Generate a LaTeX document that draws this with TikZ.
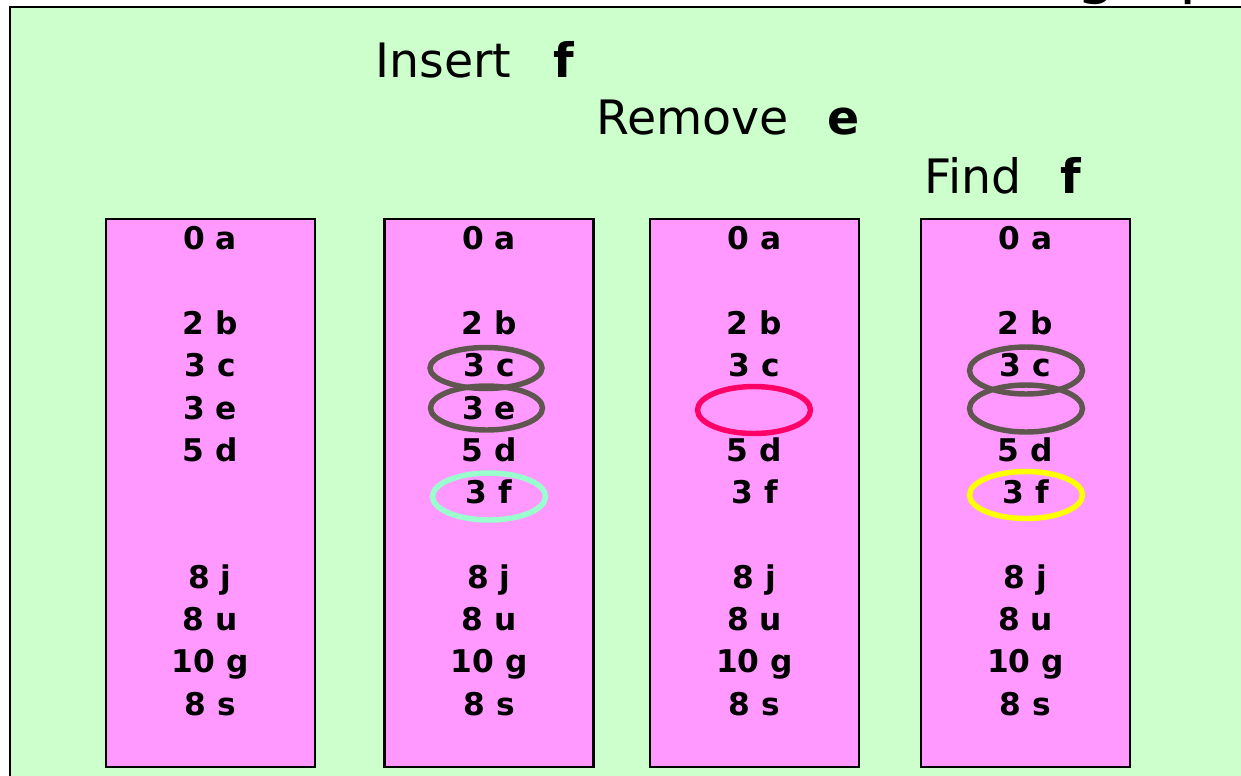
\documentclass[tikz,border=0pt]{standalone}
\usepackage{fontspec}
\setmainfont{DejaVu Sans}
\usetikzlibrary{positioning,shapes.geometric}
\definecolor{boardgreen}{HTML}{CCFFCC}
\definecolor{bucketpink}{HTML}{FF99FF}
\definecolor{ringgray}{HTML}{5F574F}
\definecolor{ringmint}{HTML}{99FFCC}
\definecolor{ringred}{HTML}{FF0066}
\definecolor{ringyellow}{HTML}{FFFF00}

\begin{document}
\begin{tikzpicture}[x=0.02cm,y=-0.02cm,node distance=0.846cm,
  entry/.style={font=\fontsize{17.8}{20}\selectfont\bfseries,text height=12.9pt,text depth=0pt,inner sep=0pt},
  bucket/.style={rectangle,draw,line width=1.2pt,fill=bucketpink,minimum width=4.18cm,minimum height=10.96cm},
  ring/.style={ellipse,line width=3.1pt,minimum width=2.26cm,minimum height=0.94cm,inner sep=0pt},
  op/.style={anchor=base west,font=\fontsize{27}{31}\selectfont,inner sep=0pt}]
\useasboundingbox (0,0) rectangle (1241,775);
\clip (0,0) rectangle (1241,775);

% board and the cut off title above it
  \draw[fill=boardgreen,line width=1.3pt] (10,7) rectangle (1300,830);
  \node[anchor=base west,font=\fontsize{36}{40}\selectfont,inner sep=0pt] (tg) at (1076,-9) {g};
  \node[anchor=base west,font=\fontsize{36}{40}\selectfont,inner sep=0pt] (tp) at (1179,-9) {p};

% operations
  \node[op] (insert) at (375,77) {Insert\hspace{24pt}\textbf{f}};
  \node[op] (remove) at (596,134) {Remove\hspace{22pt}\textbf{e}};
  \node[op] (find) at (924,193) {Find\hspace{22pt}\textbf{f}};

% buckets
  \node[bucket] (bucket1) at (210.5,493) {};
  \node[bucket] (bucket2) at (489,493) {};
  \node[bucket] (bucket3) at (754.5,493) {};
  \node[bucket] (bucket4) at (1025.5,493) {};

% first table
  \node[entry] (a1) at (210,238.5) {0 a};
  \node[entry] (b1) [node distance=1.692cm,below of=a1] {2 b};
  \node[entry] (c1) [below of=b1] {3 c};
  \node[entry] (e1) [below of=c1] {3 e};
  \node[entry] (d1) [below of=e1] {5 d};
  \node[entry] (j1) [node distance=2.538cm,below of=d1] {8 j};
  \node[entry] (u1) [below of=j1] {8 u};
  \node[entry] (g1) [below of=u1] {10 g};
  \node[entry] (s1) [below of=g1] {8 s};

% second table (after insert)
  \node[entry] (a2) at (489,238.5) {0 a};
  \node[entry] (b2) [node distance=1.692cm,below of=a2] {2 b};
  \node[entry] (c2) [below of=b2] {3 c};
  \node[entry] (e2) [below of=c2] {3 e};
  \node[entry] (d2) [below of=e2] {5 d};
  \node[entry] (f2) [below of=d2] {3 f};
  \node[entry] (j2) [node distance=1.692cm,below of=f2] {8 j};
  \node[entry] (u2) [below of=j2] {8 u};
  \node[entry] (g2) [below of=u2] {10 g};
  \node[entry] (s2) [below of=g2] {8 s};

% third table (after remove)
  \node[entry] (a3) at (754.5,238.5) {0 a};
  \node[entry] (b3) [node distance=1.692cm,below of=a3] {2 b};
  \node[entry] (c3) [below of=b3] {3 c};
  \node[entry] (d3) [node distance=1.692cm,below of=c3] {5 d};
  \node[entry] (f3) [below of=d3] {3 f};
  \node[entry] (j3) [node distance=1.692cm,below of=f3] {8 j};
  \node[entry] (u3) [below of=j3] {8 u};
  \node[entry] (g3) [below of=u3] {10 g};
  \node[entry] (s3) [below of=g3] {8 s};

% fourth table (find)
  \node[entry] (a4) at (1025.5,238.5) {0 a};
  \node[entry] (b4) [node distance=1.692cm,below of=a4] {2 b};
  \node[entry] (c4) [below of=b4] {3 c};
  \node[entry] (d4) [node distance=1.692cm,below of=c4] {5 d};
  \node[entry] (f4) [below of=d4] {3 f};
  \node[entry] (j4) [node distance=1.692cm,below of=f4] {8 j};
  \node[entry] (u4) [below of=j4] {8 u};
  \node[entry] (g4) [below of=u4] {10 g};
  \node[entry] (s4) [below of=g4] {8 s};

% rings
  \node[ring,draw=ringgray,minimum width=2.24cm,minimum height=0.82cm] (rc2) at (486,368) {};
  \node[ring,draw=ringgray,minimum width=2.24cm,minimum height=0.88cm] (re2) at (486.5,408) {};
  \node[ring,draw=ringmint] (rf2) at (489,496.5) {};
  \node[ring,draw=ringred] (re3) at (754,410) {};
  \node[ring,draw=ringgray] (rc4) at (1026,370.5) {};
  \node[ring,draw=ringgray] (re4) at (1026,408.5) {};
  \node[ring,draw=ringyellow] (rf4) at (1026,495) {};

\end{tikzpicture}
\end{document}
